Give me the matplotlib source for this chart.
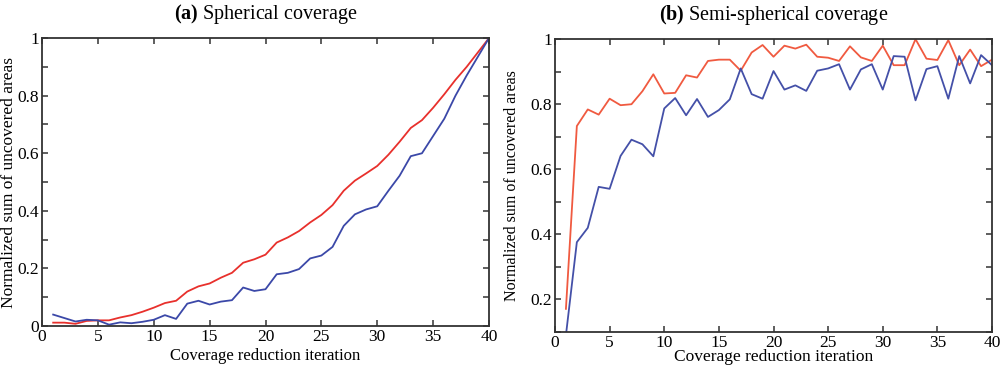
import matplotlib
matplotlib.use("Agg")
import matplotlib.pyplot as plt
import numpy as np

plt.rcParams['font.family'] = ['Liberation Serif', 'DejaVu Serif']
plt.rcParams['mathtext.fontset'] = 'custom'
plt.rcParams['mathtext.rm'] = 'Liberation Serif'
plt.rcParams['mathtext.bf'] = 'Liberation Serif:bold'

# iterations
iters = np.arange(1, 41)

# (a) spherical coverage
sph_red = [0.012, 0.012, 0.008, 0.018, 0.020, 0.020, 0.030, 0.038, 0.050, 0.064,
           0.080, 0.088, 0.120, 0.138, 0.148, 0.168, 0.185, 0.220, 0.232, 0.248,
           0.290, 0.308, 0.330, 0.360, 0.386, 0.420, 0.470, 0.505, 0.530, 0.556,
           0.595, 0.640, 0.688, 0.715, 0.758, 0.805, 0.855, 0.900, 0.950, 1.000]
sph_blue = [0.040, 0.028, 0.016, 0.022, 0.020, 0.005, 0.013, 0.010, 0.015, 0.022,
            0.038, 0.025, 0.078, 0.088, 0.075, 0.085, 0.090, 0.134, 0.122, 0.128,
            0.180, 0.185, 0.198, 0.235, 0.245, 0.275, 0.348, 0.388, 0.405, 0.416,
            0.470, 0.522, 0.590, 0.600, 0.660, 0.720, 0.800, 0.870, 0.935, 1.000]

# (b) semi-spherical coverage
semi_red = [0.171, 0.733, 0.784, 0.768, 0.817, 0.797, 0.800, 0.840, 0.892, 0.833,
            0.835, 0.889, 0.882, 0.933, 0.937, 0.937, 0.903, 0.959, 0.982, 0.946,
            0.980, 0.971, 0.983, 0.946, 0.943, 0.933, 0.978, 0.944, 0.933, 0.980,
            0.920, 0.920, 1.000, 0.940, 0.936, 0.997, 0.920, 0.968, 0.917, 0.937]
semi_blue = [0.090, 0.376, 0.420, 0.546, 0.540, 0.641, 0.691, 0.677, 0.640, 0.787,
             0.819, 0.766, 0.816, 0.761, 0.782, 0.815, 0.910, 0.831, 0.817, 0.902,
             0.845, 0.858, 0.841, 0.903, 0.910, 0.923, 0.845, 0.907, 0.923, 0.845,
             0.948, 0.946, 0.812, 0.908, 0.917, 0.817, 0.948, 0.864, 0.951, 0.920]

xticks = [0, 5, 10, 15, 20, 25, 30, 35, 40]

fig = plt.figure(figsize=(10, 3.66), dpi=100)
ax1 = fig.add_axes([0.042, 0.109, 0.447, 0.787])
ax2 = fig.add_axes([0.555, 0.093, 0.437, 0.800])


def style(ax, xl_size, yl_size):
    for s in ax.spines.values():
        s.set_color('#333333')
        s.set_linewidth(1.3)
    ax.tick_params(direction='in', top=True, right=True, length=4, width=1.1,
                   colors='#333333', labelcolor='black', labelsize=12.5, pad=2)
    ax.tick_params(which='minor', direction='in', top=True, right=True,
                   length=4, width=1.1, colors='#333333')
    ax.set_xticks(xticks)
    ax.set_xticklabels([str(t) for t in xticks])
    ax.set_xlabel('Coverage reduction iteration', fontsize=xl_size)
    ax.set_ylabel('Normalized sum of uncovered areas', fontsize=yl_size)


ax1.plot(iters, sph_red, color='#e8302c', lw=1.3)
ax1.plot(iters, sph_blue, color='#3b48a8', lw=1.3)
ax1.set_xlim(0, 40)
ax1.set_ylim(0, 1)
ax1.set_yticks([0, 0.2, 0.4, 0.6, 0.8, 1])
ax1.set_yticklabels(['0', '0.2', '0.4', '0.6', '0.8', '1'])
ax1.set_yticks(np.arange(0.1, 1.0, 0.2), minor=True)
style(ax1, 12, 12.5)
ax1.xaxis.set_label_coords(0.5, -0.075)
ax1.yaxis.set_label_coords(-0.056, 0.5)
ax1.set_title(r'$\mathbf{(a)}$ Spherical coverage', fontsize=14.5, pad=14)

ax2.plot(iters, semi_red, color='#f05a40', lw=1.3)
ax2.plot(iters, semi_blue, color='#4450a8', lw=1.3)
ax2.set_xlim(0, 40)
ax2.set_ylim(0.1, 1)
ax2.set_yticks([0.2, 0.4, 0.6, 0.8, 1])
ax2.set_yticks(np.arange(0.1, 1.0, 0.2), minor=True)
ax2.set_yticklabels(['0.2', '0.4', '0.6', '0.8', '1'])
style(ax2, 12.5, 11.5)
ax2.xaxis.set_label_coords(0.5, -0.058)
ax2.yaxis.set_label_coords(-0.08, 0.5)
ax2.set_title(r'$\mathbf{(b)}$ Semi-spherical coverage', fontsize=14.5, pad=14)

fig.savefig('out.png', dpi=100)
